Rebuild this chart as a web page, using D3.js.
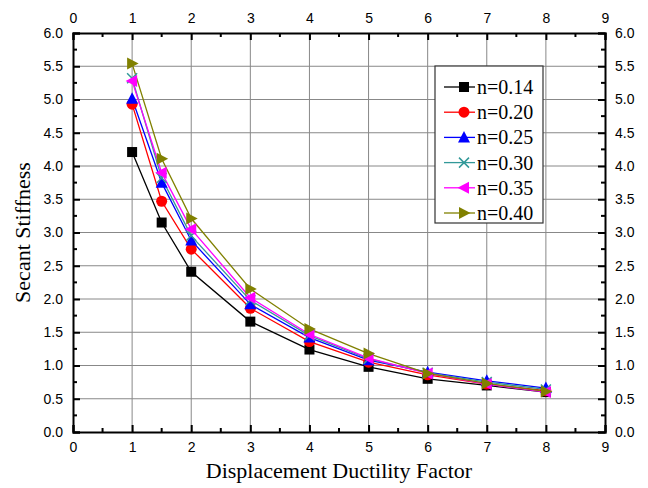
<!DOCTYPE html>
<html><head><meta charset="utf-8">
<script src="https://cdn.jsdelivr.net/npm/d3@7"></script>
<style>body{margin:0;background:#fff}svg{display:block}</style>
</head><body>
<svg id="c" width="648" height="488"></svg>
<script>
const xVals = [1, 1.5, 2, 3, 4, 5, 6, 7, 8];
const seriesNames = ["n=0.14", "n=0.20", "n=0.25", "n=0.30", "n=0.35", "n=0.40"];
const s014 = [4.21, 3.15, 2.41, 1.66, 1.24, 0.98, 0.80, 0.70, 0.60];
const s020 = [4.93, 3.47, 2.75, 1.86, 1.36, 1.05, 0.86, 0.72, 0.62];
const s025 = [5.01, 3.75, 2.88, 1.92, 1.42, 1.08, 0.90, 0.77, 0.66];
const s030 = [5.32, 3.82, 2.95, 1.98, 1.45, 1.10, 0.89, 0.75, 0.64];
const s035 = [5.28, 3.90, 3.05, 2.02, 1.47, 1.11, 0.88, 0.72, 0.60];
const s040 = [5.54, 4.11, 3.21, 2.15, 1.55, 1.18, 0.88, 0.73, 0.61];
const xTicks = [0,1,2,3,4,5,6,7,8,9];
const yTicks = [0,0.5,1,1.5,2,2.5,3,3.5,4,4.5,5,5.5,6];
const colors = ["#000000", "#ff0000", "#0000ff", "#339999", "#ff00ff", "#808000"];
const markers = ["square", "circle", "triUp", "cross", "triLeft", "triRight"];
const data = [s014, s020, s025, s030, s035, s040];

const svg = d3.select("#c");
const L = 73, R = 605, T = 33, B = 432;
const x = d3.scaleLinear().domain([0, 9]).range([L, R]);
const y = d3.scaleLinear().domain([0, 6]).range([B, T]);

// grid
const g = svg.append("g");
g.selectAll(".vx").data(xTicks.slice(1, -1)).enter().append("line")
  .attr("x1", d => x(d)).attr("x2", d => x(d)).attr("y1", T).attr("y2", B)
  .attr("stroke", "#888").attr("stroke-width", 1);
g.selectAll(".hy").data(yTicks.slice(1, -1)).enter().append("line")
  .attr("y1", d => y(d)).attr("y2", d => y(d)).attr("x1", L).attr("x2", R)
  .attr("stroke", "#888").attr("stroke-width", 1);

// axes with inward ticks
function ax(gen, tr, ticks, minor, fmt, cls) {
  const a = svg.append("g").attr("transform", tr);
  a.call(gen.tickValues(ticks).tickSize(-7).tickPadding(10).tickFormat(fmt));
  a.selectAll("text").attr("font-family", "Liberation Sans, Arial, sans-serif").attr("font-size", 14).attr("fill", "#000");
  a.select(".domain").attr("stroke", "#000").attr("stroke-width", 2);
  a.selectAll(".tick line").attr("stroke", "#000").attr("stroke-width", 2);
  return a;
}
const fx = d3.format("d"), fy = d3.format(".1f");
const xm = d3.range(0.5, 9, 1), ym = d3.range(0.25, 6, 0.5);
ax(d3.axisBottom(x), `translate(0,${B})`, xTicks, xm, fx);
ax(d3.axisTop(x), `translate(0,${T})`, xTicks, xm, fx);
ax(d3.axisLeft(y), `translate(${L},0)`, yTicks, ym, fy);
ax(d3.axisRight(y), `translate(${R},0)`, yTicks, ym, fy);
// minor ticks
const mt = svg.append("g").attr("stroke", "#000").attr("stroke-width", 2);
xm.forEach(v => {
  mt.append("line").attr("x1", x(v)).attr("x2", x(v)).attr("y1", B).attr("y2", B - 4);
  mt.append("line").attr("x1", x(v)).attr("x2", x(v)).attr("y1", T).attr("y2", T + 4);
});
ym.forEach(v => {
  mt.append("line").attr("y1", y(v)).attr("y2", y(v)).attr("x1", L).attr("x2", L + 4);
  mt.append("line").attr("y1", y(v)).attr("y2", y(v)).attr("x1", R).attr("x2", R - 4);
});

function drawMarker(sel, type, cx, cy, color) {
  const s = 5;
  if (type === "square") sel.append("rect").attr("x", cx - s).attr("y", cy - s).attr("width", 2*s).attr("height", 2*s).attr("fill", color);
  else if (type === "circle") sel.append("circle").attr("cx", cx).attr("cy", cy).attr("r", 5.5).attr("fill", color);
  else if (type === "triUp") sel.append("path").attr("d", `M${cx},${cy-6.5}L${cx+6},${cy+5}L${cx-6},${cy+5}Z`).attr("fill", color);
  else if (type === "triLeft") sel.append("path").attr("d", `M${cx-6.5},${cy}L${cx+5},${cy-6}L${cx+5},${cy+6}Z`).attr("fill", color);
  else if (type === "triRight") sel.append("path").attr("d", `M${cx+6.5},${cy}L${cx-5},${cy-6}L${cx-5},${cy+6}Z`).attr("fill", color);
  else if (type === "cross") sel.append("path").attr("d", `M${cx-5},${cy-5}L${cx+5},${cy+5}M${cx-5},${cy+5}L${cx+5},${cy-5}`).attr("stroke", color).attr("stroke-width", 1.5).attr("fill", "none");
}

const line = d3.line().x((d, i) => x(xVals[i])).y(d => y(d));
const pl = svg.append("g");
data.forEach((s, k) => {
  pl.append("path").attr("d", line(s)).attr("fill", "none").attr("stroke", colors[k]).attr("stroke-width", 1.3);
});
data.forEach((s, k) => {
  s.forEach((v, i) => drawMarker(pl, markers[k], x(xVals[i]), y(v), colors[k]));
});

// legend
const lg = svg.append("g");
lg.append("rect").attr("x", 435).attr("y", 66).attr("width", 108).attr("height", 157)
  .attr("fill", "#fff").attr("stroke", "#333").attr("stroke-width", 1.2);
seriesNames.forEach((n, k) => {
  const yy = 87 + k * 25.2;
  lg.append("line").attr("x1", 444).attr("x2", 475).attr("y1", yy).attr("y2", yy).attr("stroke", colors[k]).attr("stroke-width", 1.3);
  drawMarker(lg, markers[k], 464, yy, colors[k]);
  lg.append("text").attr("x", 477).attr("y", yy + 7).text(n)
    .attr("font-family", "Liberation Serif, Times New Roman, serif").attr("font-size", 20).attr("fill", "#000");
});

// titles
svg.append("text").attr("x", x(4.5)).attr("y", 478).attr("text-anchor", "middle")
  .attr("font-family", "Liberation Serif, Times New Roman, serif").attr("font-size", 22).text("Displacement Ductility Factor");
svg.append("text").attr("transform", `translate(30,${(T + B) / 2}) rotate(-90)`).attr("text-anchor", "middle")
  .attr("font-family", "Liberation Serif, Times New Roman, serif").attr("font-size", 22).text("Secant Stiffness");
</script>
</body></html>
